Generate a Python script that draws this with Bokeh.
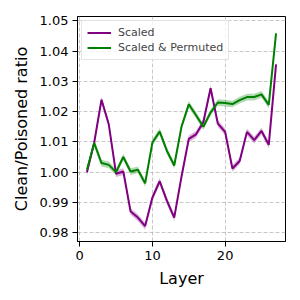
from bokeh.plotting import figure
from bokeh.embed import file_html
from bokeh.resources import INLINE
from bokeh.models import Range1d, FixedTicker, Legend, LegendItem
import numpy as np

layers = list(range(1, 28))
scaled = [1.000, 1.0098, 1.0239, 1.0158, 0.9995, 1.0002, 0.9870, 0.9850, 0.9822, 0.9916,
          0.9970, 0.9905, 0.9850, 0.9985, 1.0110, 1.0125, 1.0165, 1.0277, 1.0160, 1.0133,
          1.0012, 1.0037, 1.0133, 1.0106, 1.0136, 1.0090, 1.0356]
scaled_err = [0.0011] * 27
permuted = [1.0008, 1.0096, 1.0030, 1.0024, 1.0000, 1.0050, 1.0002, 1.0008, 0.9963, 1.0098,
            1.0134, 1.0070, 1.0022, 1.0150, 1.0224, 1.0188, 1.0150, 1.0197, 1.0230, 1.0228,
            1.0225, 1.0238, 1.0248, 1.0248, 1.0257, 1.0222, 1.0458]
permuted_err = [0.0011] * 27
x_ticks = [0, 10, 20]
y_ticks = [0.98, 0.99, 1.00, 1.01, 1.02, 1.03, 1.04, 1.05]

purple = "#800080"
green = "#008000"

p = figure(width=300, height=300, output_backend="svg", toolbar_location=None,
           x_range=Range1d(-0.3, 28.3), y_range=Range1d(0.9771, 1.0514),
           min_border_left=77, min_border_right=15, min_border_top=16, min_border_bottom=59)
p.frame_width = 208
p.frame_height = 225

x = np.array(layers)
s = np.array(scaled); se = np.array(scaled_err)
g = np.array(permuted); ge = np.array(permuted_err)

p.varea(x=x, y1=s - se, y2=s + se, fill_color=purple, fill_alpha=0.3)
p.varea(x=x, y1=g - ge, y2=g + ge, fill_color=green, fill_alpha=0.3)
r1 = p.line(x, s, line_color=purple, line_width=2)
r2 = p.line(x, g, line_color=green, line_width=2)

legend = Legend(items=[LegendItem(label="Scaled", renderers=[r1]),
                       LegendItem(label="Scaled & Permuted", renderers=[r2])],
                location="top_left")
legend.label_text_font = "DejaVu Sans"
legend.label_text_font_size = "11px"
legend.glyph_width = 24
legend.glyph_height = 13
legend.label_height = 13
legend.label_standoff = 7
legend.spacing = 2
legend.padding = 5
legend.margin = 4
legend.border_line_color = "#cccccc"
legend.border_line_width = 1
legend.background_fill_alpha = 0.8
p.add_layout(legend)

p.xaxis.ticker = FixedTicker(ticks=x_ticks)
p.yaxis.ticker = FixedTicker(ticks=y_ticks)
p.yaxis.major_label_overrides = {t: f"{t:.2f}" for t in y_ticks}
p.xaxis.axis_label = "Layer"
p.yaxis.axis_label = "Clean/Poisoned ratio"
for ax in [p.xaxis[0], p.yaxis[0]]:
    ax.axis_label_text_font = "DejaVu Sans"
    ax.axis_label_text_font_size = "16px"
    ax.axis_label_text_font_style = "normal"
    ax.axis_label_text_color = "black"
    ax.major_label_text_font = "DejaVu Sans"
    ax.major_label_text_font_size = "13px"
    ax.major_label_text_color = "black"
    ax.minor_tick_line_color = None
    ax.major_tick_out = 5
    ax.major_tick_in = 0
    ax.major_tick_line_color = "black"
    ax.axis_line_color = "black"
    ax.axis_label_standoff = 6
    ax.major_label_standoff = 4

p.outline_line_color = "black"
p.outline_line_width = 1
p.grid.grid_line_color = "#b0b0b0"
p.grid.grid_line_alpha = 0.7
p.grid.grid_line_dash = "4 2"
p.grid.grid_line_width = 1

open("out.html", "w").write(file_html(p, INLINE))
